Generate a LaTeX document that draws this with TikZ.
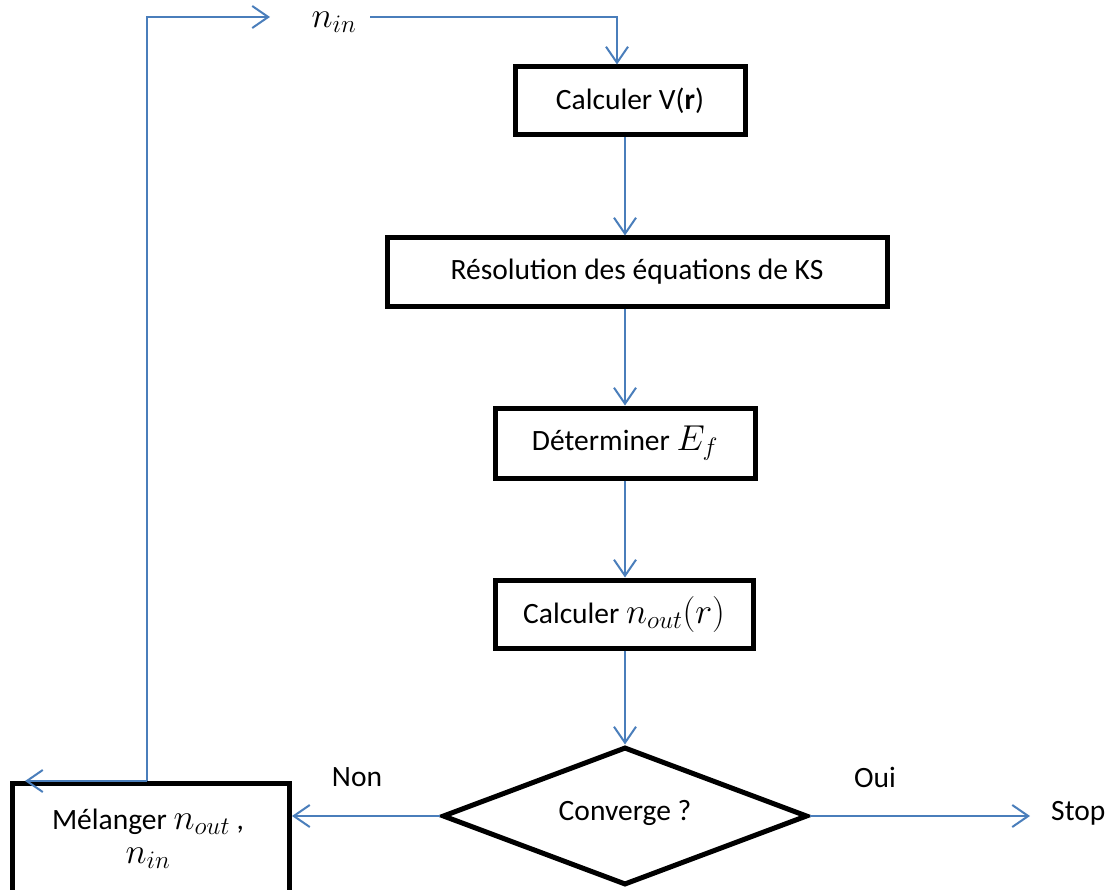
\documentclass[tikz,border=0pt]{standalone}
\usepackage{fix-cm}
\usepackage{fontspec}
\setmainfont{Carlito}
\usetikzlibrary{shapes.geometric,arrows.meta}
\definecolor{linkblue}{RGB}{74,126,187}
\newcommand{\mth}[1]{{\fontsize{36}{42}\selectfont$#1$}}
\tikzset{
  stepbox/.style={draw=black, line width=5pt, rectangle, inner sep=0pt, align=center, font=\fontsize{29.5}{36}\selectfont},
  decision/.style={draw=black, line width=5pt, diamond, inner sep=0pt},
  lbl/.style={inner sep=0pt, font=\fontsize{29.5}{36}\selectfont},
  flow/.style={draw=linkblue, line width=2pt, -{Straight Barb[length=16pt,width=22pt,line width=2pt]}},
}
\begin{document}
\begin{tikzpicture}[x=1pt,y=-1pt]
\useasboundingbox (0,0) rectangle (1107,890);
\begin{scope}
\clip (0,0) rectangle (1107,890);
\node[stepbox, minimum width=230pt, minimum height=68pt] (calcV) at (630,101) {Calculer V(\textbf{r})};
\node[stepbox, minimum width=500pt, minimum height=68pt] (ks) at (637,272) {Résolution des équations de KS};
\node[stepbox, minimum width=260pt, minimum height=70pt] (ef) at (625,443) {Déterminer \mth{E_f}};
\node[stepbox, minimum width=258pt, minimum height=68pt] (nout) at (624,614) {Calculer \mth{n_{out}(r)}};
\node[decision, minimum width=365pt, minimum height=138pt] (conv) at (625,816) {};
\node[lbl] (convtxt) at (625,813) {Converge ?};
\node[stepbox, minimum width=277pt, minimum height=140pt, anchor=north west] (mix) at (10,781) {};
\node[lbl] (mixtxt1) at (148,822) {Mélanger \mth{n_{out}} ,};
\node[lbl] (mixtxt2) at (148,858) {\mth{n_{in}}};
\end{scope}
\node[lbl] (nin) at (334,22) {\mth{n_{in}}};
\node[lbl] (non) at (357,777) {Non};
\node[lbl] (oui) at (875,777) {Oui};
\node[lbl, anchor=west] (stop) at (1051,813) {Stop};

\coordinate (topS) at (370,17);
\coordinate (topR) at (617,17);
\coordinate (topL) at (147,17);
\coordinate (topArr) at (270,17);
\coordinate (botL) at (147,781);
\coordinate (botArr) at (25,781);
\coordinate (stopArr) at (1030,816);
\coordinate (mid) at (625,0);

\draw[flow] (topS) -| (calcV.north -| topR);
\draw[flow] (calcV.south -| mid) -- (ks.north -| mid);
\draw[flow] (ks.south -| mid) -- (ef.north -| mid);
\draw[flow] (ef.south -| mid) -- (nout.north -| mid);
\draw[flow] (nout.south -| mid) -- (conv.north);
\draw[flow] (conv.east) -- (stopArr);
\draw[flow] (conv.west) -- (mix.east |- conv.west);
\draw[flow] (botL) -- (botArr);
\draw[flow] (botL) -- (topL) -- (topArr);
\end{tikzpicture}
\end{document}
